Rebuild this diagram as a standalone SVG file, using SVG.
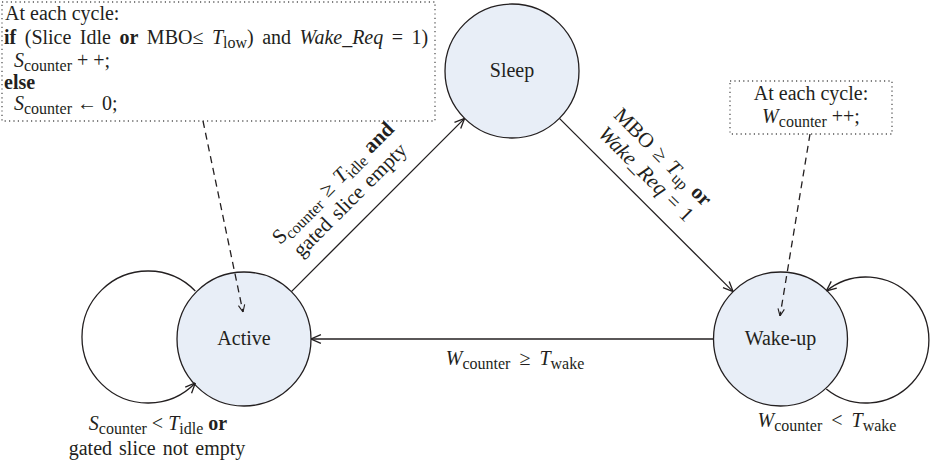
<svg xmlns="http://www.w3.org/2000/svg" width="933" height="464" viewBox="0 0 933 464" font-family="'Liberation Serif', 'Times New Roman', 'DejaVu Serif', serif">
<style>
text{font-family:'Liberation Serif','Times New Roman','DejaVu Serif',serif;font-size:20px;fill:#231f20}
.i{font-style:italic}
.b{font-weight:bold}
.s{font-size:16px}
.r{font-size:21px;word-spacing:2px}
.node{fill:#e8eef7;stroke:#231f20;stroke-width:1.3}
.edge{fill:none;stroke:#231f20;stroke-width:1.3}
.dash{fill:none;stroke:#231f20;stroke-width:1.3;stroke-dasharray:7,5}
.dot{fill:#fff;stroke:#555;stroke-width:1.3;stroke-dasharray:1.2,3.2}
</style>
<defs>
<marker id="arr" viewBox="0 0 10 10" refX="10" refY="5" markerWidth="11" markerHeight="11" markerUnits="userSpaceOnUse" orient="auto"><path d="M1,1 L10,5 L1,9" fill="none" stroke="#231f20" stroke-width="1.2"/></marker>
<marker id="arrS" viewBox="0 0 10 10" refX="10" refY="5" markerWidth="8" markerHeight="8" markerUnits="userSpaceOnUse" orient="auto"><path d="M1,1 L10,5 L1,9" fill="none" stroke="#231f20" stroke-width="1.4"/></marker>
</defs>

<g id="note-sleep">
<rect class="dot" x="2" y="2" width="433" height="119"/>
<text x="5" y="20">At each cycle:</text>
<text x="4" y="44" style="word-spacing:3.5px"><tspan class="b">if</tspan> (Slice Idle <tspan class="b">or</tspan> MBO≤ <tspan class="i">T</tspan><tspan class="s" dy="4">low</tspan><tspan dy="-4">) and </tspan><tspan class="i">Wake_Req</tspan> = 1)</text>
<text x="14" y="67"><tspan class="i">S</tspan><tspan class="s" dy="4">counter</tspan><tspan dy="-4"> + +;</tspan></text>
<text x="4" y="89" class="b">else</text>
<text x="14" y="110"><tspan class="i">S</tspan><tspan class="s" dy="4">counter</tspan><tspan dy="-4"> ← 0;</tspan></text>
</g>

<g id="note-wake">
<rect class="dot" x="730" y="81" width="162" height="53"/>
<text x="811" y="100" text-anchor="middle">At each cycle:</text>
<text x="811" y="123" text-anchor="middle"><tspan class="i">W</tspan><tspan class="s" dy="4">counter</tspan><tspan dy="-4"> ++;</tspan></text>
</g>

<g id="node-sleep">
<circle class="node" cx="512" cy="71" r="67"/>
<text x="512" y="77" text-anchor="middle">Sleep</text>
</g>
<g id="node-active">
<circle class="node" cx="244" cy="339" r="67"/>
<text x="244" y="345" text-anchor="middle">Active</text>
</g>
<g id="node-wakeup">
<circle class="node" cx="780.5" cy="339" r="67"/>
<text x="780.5" y="345" text-anchor="middle">Wake-up</text>
</g>

<g id="connectors">
<line class="edge" x1="291.4" y1="291.6" x2="464.6" y2="118.4" marker-end="url(#arr)"/>
<line class="edge" x1="559.4" y1="118.4" x2="733.1" y2="291.6" marker-end="url(#arr)"/>
<line class="edge" x1="713.5" y1="339" x2="311" y2="339" marker-end="url(#arr)"/>
<path class="edge" d="M195.3,291 A66,66 0 1 0 195.3,383" marker-end="url(#arr)"/>
<path class="edge" d="M826.3,389 A63,63 0 1 0 826.3,291" marker-end="url(#arr)"/>
<line class="dash" x1="203" y1="121" x2="243" y2="312" marker-end="url(#arrS)"/>
<line class="dash" x1="810" y1="134" x2="780" y2="316" marker-end="url(#arrS)"/>
</g>

<g id="labels">
<g transform="translate(342,192) rotate(-45)">
<text class="r" x="0" y="-6" text-anchor="middle">S<tspan class="s" dy="4">counter</tspan><tspan dy="-4"> ≥ </tspan><tspan class="i">T</tspan><tspan class="s" dy="4">idle</tspan><tspan dy="-4" class="b"> and</tspan></text>
<text class="r" x="0" y="18" text-anchor="middle">gated slice empty</text>
</g>
<g transform="translate(654,166) rotate(45)">
<text class="r" x="0" y="-6" text-anchor="middle">MBO ≥ <tspan class="i">T</tspan><tspan class="s" dy="4">up</tspan><tspan dy="-4" class="b"> or</tspan></text>
<text class="r" x="0" y="18" text-anchor="middle"><tspan class="i">Wake_Req</tspan> = 1</text>
</g>
<text x="515" y="365" text-anchor="middle" style="word-spacing:4px"><tspan class="i">W</tspan><tspan class="s" dy="4">counter</tspan><tspan dy="-4"> ≥ </tspan><tspan class="i">T</tspan><tspan class="s" dy="4">wake</tspan></text>
<text x="158" y="430" text-anchor="middle"><tspan class="i">S</tspan><tspan class="s" dy="4">counter</tspan><tspan dy="-4"> &lt; </tspan><tspan class="i">T</tspan><tspan class="s" dy="4">idle</tspan><tspan dy="-4" class="b"> or</tspan></text>
<text x="157" y="455" text-anchor="middle" style="word-spacing:2px">gated slice not empty</text>
<text x="827" y="427" text-anchor="middle" style="word-spacing:4px"><tspan class="i">W</tspan><tspan class="s" dy="4">counter</tspan><tspan dy="-4"> &lt; </tspan><tspan class="i">T</tspan><tspan class="s" dy="4">wake</tspan></text>
</g>
</svg>
